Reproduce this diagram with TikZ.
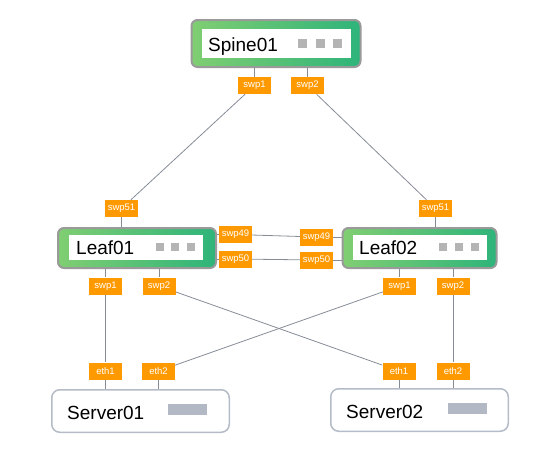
\documentclass[tikz,border=0pt]{standalone}
\usepackage{fontspec}
\setmainfont{Liberation Sans}
\definecolor{portorange}{HTML}{FF9900}
\definecolor{linkgray}{HTML}{858C96}
\definecolor{devborder}{HTML}{9A9A9A}
\definecolor{greenL}{HTML}{80CE72}
\definecolor{greenR}{HTML}{2EB47A}
\definecolor{sqgray}{HTML}{B4B4B4}
\definecolor{srvborder}{HTML}{B5BCC8}
\definecolor{bargray}{HTML}{B3B9C4}
\begin{document}
\begin{tikzpicture}[x=1pt,y=-1pt,
  port/.style={fill=portorange, text=white, font=\fontsize{9.5}{10}\selectfont, minimum width=33pt, minimum height=17pt, inner sep=0pt},
  link/.style={draw=linkgray, line width=0.8pt},
  dev/.style={draw=devborder, line width=2pt, rounded corners=6pt, left color=greenL, right color=greenR, inner sep=0pt},
  devin/.style={fill=white, inner sep=0pt},
  devname/.style={font=\fontsize{19}{22}\selectfont, anchor=base west, inner sep=0pt},
  sq/.style={fill=sqgray, minimum size=8pt, inner sep=0pt},
  srv/.style={draw=srvborder, line width=1.5pt, rounded corners=8pt, fill=white, inner sep=0pt},
  bar/.style={fill=bargray, inner sep=0pt, minimum width=39pt, minimum height=11pt}]

\useasboundingbox (0,0) rectangle (548,450);

% Spine
\node[dev, minimum width=169pt, minimum height=47pt] (spine) at (276,43.5) {};
\node[devin, minimum width=149pt, minimum height=29pt] (spinein) at (276.5,43.5) {};
\node[devname] (spinename) at (208,51) {Spine01};
\node[sq, minimum size=9pt] (spq1) at (302.8,43.7) {};
\node[sq, minimum size=9pt] (spq2) at (320,43.7) {};
\node[sq, minimum size=9pt] (spq3) at (337.8,43.7) {};

% Leaf01
\node[dev, minimum width=158pt, minimum height=40pt] (leaf1) at (137,248) {};
\node[devin, minimum width=134pt, minimum height=25pt] (leaf1in) at (136,247.5) {};
\node[devname] (leaf1name) at (76,254) {Leaf01};
\node[sq] (l1q1) at (159.5,247) {};
\node[sq] (l1q2) at (175,247) {};
\node[sq] (l1q3) at (190.5,247) {};

% Leaf02
\node[dev, minimum width=154pt, minimum height=40pt] (leaf2) at (419.5,248) {};
\node[devin, minimum width=134pt, minimum height=25pt] (leaf2in) at (420,247.5) {};
\node[devname] (leaf2name) at (359,254) {Leaf02};
\node[sq] (l2q1) at (443,247) {};
\node[sq] (l2q2) at (459,247) {};
\node[sq] (l2q3) at (475,247) {};

% Servers
\node[srv, minimum width=177.5pt, minimum height=42.5pt] (srv1) at (140.5,411) {};
\node[devname] (srv1name) at (67,419) {Server01};
\node[bar] (srv1bar) at (187.5,409.5) {};
\node[srv, minimum width=177.5pt, minimum height=42.5pt] (srv2) at (419.5,410) {};
\node[devname] (srv2name) at (346,418) {Server02};
\node[bar] (srv2bar) at (467,408.5) {};

% Ports
\node[port] (sp1) at (254.5,85.5) {swp1};
\node[port] (sp2) at (307.5,85.5) {swp2};
\node[port] (l1p51) at (121.5,208.5) {swp51};
\node[port] (l2p51) at (435.5,208.5) {swp51};
\node[port] (l1p49) at (235.5,234.5) {swp49};
\node[port] (l1p50) at (235.5,259) {swp50};
\node[port] (l2p49) at (316.5,237) {swp49};
\node[port] (l2p50) at (316.5,260) {swp50};
\node[port] (l1p1) at (105.5,286) {swp1};
\node[port] (l1p2) at (159,286) {swp2};
\node[port] (l2p1) at (399.5,286) {swp1};
\node[port] (l2p2) at (453,286) {swp2};
\node[port] (s1e1) at (105.5,371) {eth1};
\node[port] (s1e2) at (158.5,371) {eth2};
\node[port] (s2e1) at (399,371) {eth1};
\node[port] (s2e2) at (453,371) {eth2};

% Links
\draw[link] (spine.south -| sp1) -- (sp1);
\draw[link] (spine.south -| sp2) -- (sp2);
\draw[link] (sp1) -- (l1p51);
\draw[link] (sp2) -- (l2p51);
\draw[link] (l1p51) -- (leaf1.north -| l1p51);
\draw[link] (l2p51) -- (leaf2.north -| l2p51);
\draw[link] (leaf1.east |- l1p49) -- (l1p49);
\draw[link] (l1p49) -- (l2p49);
\draw[link] (l2p49) -- (leaf2.west |- l2p49);
\draw[link] (leaf1.east |- l1p50) -- (l1p50);
\draw[link] (l1p50) -- (l2p50);
\draw[link] (l2p50) -- (leaf2.west |- l2p50);
\draw[link] (leaf1.south -| l1p1) -- (l1p1);
\draw[link] (leaf1.south -| l1p2) -- (l1p2);
\draw[link] (leaf2.south -| l2p1) -- (l2p1);
\draw[link] (leaf2.south -| l2p2) -- (l2p2);
\draw[link] (l1p1) -- (s1e1);
\draw[link] (l1p2) -- (s2e1);
\draw[link] (l2p1) -- (s1e2);
\draw[link] (l2p2) -- (s2e2);
\draw[link] (s1e1) -- (srv1.north -| s1e1);
\draw[link] (s1e2) -- (srv1.north -| s1e2);
\draw[link] (s2e1) -- (srv2.north -| s2e1);
\draw[link] (s2e2) -- (srv2.north -| s2e2);
\end{tikzpicture}
\end{document}
